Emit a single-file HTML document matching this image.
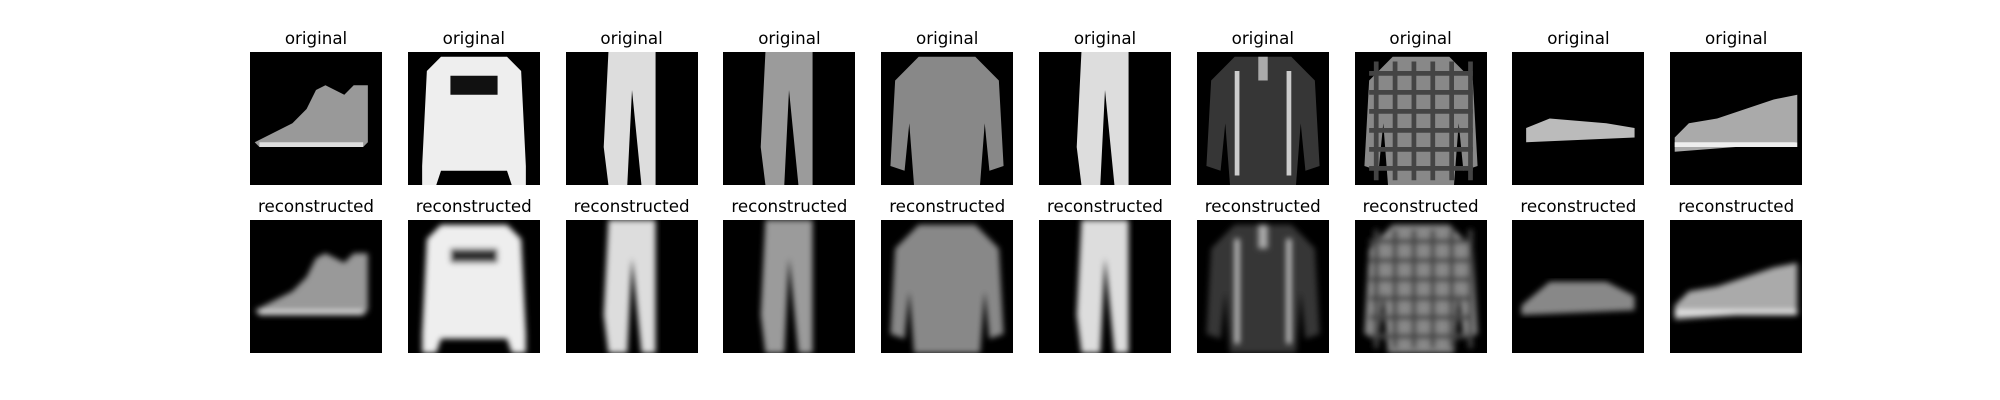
<!DOCTYPE html>
<html><head><meta charset="utf-8">
<style>
body{margin:0;background:#fff;width:2000px;height:400px;position:relative;overflow:hidden;font-family:"DejaVu Sans","Liberation Sans",sans-serif;}
.t{position:absolute;width:200px;text-align:center;font-size:16.7px;color:#000;line-height:20px}
svg.p{position:absolute;width:132px;height:133px;background:#000}
</style></head><body>
<svg width="0" height="0" style="position:absolute"><defs>
<filter id="bl"><feGaussianBlur stdDeviation="0.6"/></filter>
<g id="boot"><polygon points="1,19 5,17 9,15 12,12 14,8 16,7 18,8 20,9 22,7 25,7 25,19 24,20 15,20 2,20" fill="#999"/><rect x="2" y="19" width="22" height="1" fill="#ddd"/></g>
<g id="sweater"><polygon points="7,1 21,1 24,4 25,24 25,28 22,28 21,25 7,25 6,28 3,28 3,24 4,4" fill="#eee"/></g>
<g id="trousers"><polygon points="9,0 19,0 19,28 16,28 14,8 13,28 9,28 8,20" fill="#ddd"/></g>
<g id="shirt"><polygon points="8,1 20,1 25,6 26,24 23,25 22,15 21,28 7,28 6,15 5,25 2,24 3,6" fill="#888"/></g>
<g id="sandal"><polygon points="3,16 8,14 20,15 26,16 26,18 3,19" fill="#bbb"/></g>
<g id="sneaker"><polygon points="1,18 4,15 10,14 16,12 22,10 27,9 27,19 1,21" fill="#aaa"/><rect x="1" y="19" width="26" height="1" fill="#eee"/></g>
</defs></svg>
<div id="root"></div>
<script>
const items=['boot','sweater','trousers','trousers2','shirt','trousers','jacket','plaid','sandal','sneaker'];
const root=document.getElementById('root');
function body(k,rec){
  let s='';
  if(k==='trousers2') s='<use href="#trousers" opacity="0.7"/>';
  else if(k==='jacket') s='<use href="#shirt" opacity="0.4"/><rect x="8" y="4" width="1" height="22" fill="#ccc"/><rect x="19" y="4" width="1" height="22" fill="#ccc"/><rect x="13" y="1" width="2" height="5" fill="#aaa"/>';
  else if(k==='plaid'){s='<use href="#shirt"/>';for(let i=4;i<26;i+=4){s+='<rect x="3" y="'+i+'" width="22" height="1" fill="#444"/><rect x="'+i+'" y="2" width="1" height="25" fill="#444"/>';}}
  else s='<use href="#'+k+'"/>';
  if(k==='sweater'&&!rec) s+='<rect x="9" y="5" width="10" height="4" fill="#111"/>';
  if(k==='sweater'&&rec) s+='<rect x="9" y="6" width="10" height="3" fill="#333"/>';
  if(k==='sandal'&&rec) s='<polygon points="2,18 8,13 20,13 26,16 26,19 2,20" fill="#888"/>';
  return s;
}
items.forEach((k,i)=>{
  const x=250+i*157.8;
  [[52,'original',false],[220,'reconstructed',true]].forEach(([y,lab,rec])=>{
    const t=document.createElement('div');
    t.className='t';t.style.left=(x+66-100)+'px';t.style.top=(y-24)+'px';t.textContent=lab;
    
    
    root.appendChild(t);
    const d=document.createElement('div');
    d.innerHTML='<svg class="p" viewBox="0 0 28 28" preserveAspectRatio="none" style="left:'+x+'px;top:'+y+'px"><g'+(rec?' filter="url(#bl)"':'')+'>'+body(k,rec)+'</g></svg>';
    const sv=d.firstChild;
    
    
    root.appendChild(sv);
  });
});
</script>
</body></html>
